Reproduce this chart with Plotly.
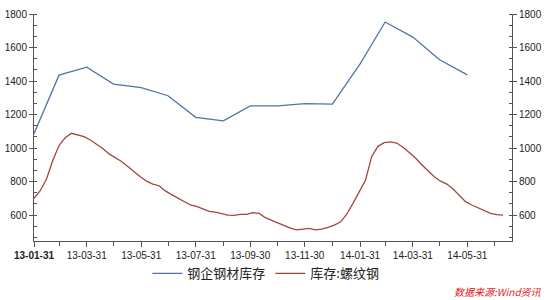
import plotly.graph_objects as go
import pandas as pd

# ---- data ----
steel_dates = ["2013-01-31", "2013-02-28", "2013-03-31", "2013-04-30", "2013-05-31",
               "2013-06-30", "2013-07-31", "2013-08-31", "2013-09-30", "2013-10-31",
               "2013-11-30", "2013-12-31", "2014-01-31", "2014-02-28", "2014-03-31",
               "2014-04-30", "2014-05-31"]
steel_values = [1085, 1435, 1483, 1382, 1360, 1312, 1183, 1162, 1252, 1252,
                1265, 1262, 1502, 1752, 1662, 1527, 1437]

rebar_start = "2013-01-31"
rebar_values = [700, 745, 815, 925, 1015, 1062, 1088, 1078, 1068, 1048,
                1024, 997, 965, 943, 920, 890, 857, 828, 802, 785,
                775, 744, 722, 702, 683, 660, 651, 638, 622, 617,
                608, 600, 598, 604, 604, 614, 610, 584, 568, 552,
                534, 522, 512, 515, 520, 512, 516, 527, 540, 558,
                605, 670, 740, 808, 950, 1010, 1032, 1037, 1030, 1005,
                973, 940, 900, 864, 828, 802, 785, 755, 720, 680,
                660, 643, 625, 610, 603, 600]
rebar_dates = pd.date_range(rebar_start, periods=len(rebar_values), freq="7D")

major_ticks = ["2013-01-31", "2013-03-31", "2013-05-31", "2013-07-31", "2013-09-30",
               "2013-11-30", "2014-01-31", "2014-03-31", "2014-05-31"]
major_labels = ["<b>13-01-31</b>", "13-03-31", "13-05-31", "13-07-31", "13-09-30",
                "13-11-30", "14-01-31", "14-03-31", "14-05-31"]
minor_ticks = ["2013-02-28", "2013-04-30", "2013-06-30", "2013-08-31", "2013-10-31",
               "2013-12-31", "2014-02-28", "2014-04-30", "2014-06-30"]

name_steel = "钢企钢材库存"
name_rebar = "库存:螺纹钢"
source_text = "<i>数据来源:Wind资讯</i>"

FONT = "Liberation Sans, Arial, Noto Sans CJK SC, sans-serif"
AX = "#555555"
YRANGE = [445, 1800]

fig = go.Figure()
fig.add_trace(go.Scatter(x=steel_dates, y=steel_values, mode="lines", name=name_steel,
                         line=dict(color="#4f75a8", width=1.3)))
fig.add_trace(go.Scatter(x=rebar_dates, y=rebar_values, mode="lines", name=name_rebar,
                         line=dict(color="#a5443e", width=1.3), yaxis="y2"))

yax = dict(range=YRANGE, tickvals=[600, 800, 1000, 1200, 1400, 1600, 1800],
           showgrid=False, zeroline=False, showline=True, linecolor=AX, linewidth=1,
           ticks="outside", ticklen=4, tickcolor=AX, automargin=False,
           tickfont=dict(family=FONT, size=10, color="#222222"),
           minor=dict(tick0=0, dtick=200/3, ticks="inside", ticklen=3, tickcolor=AX))

fig.update_layout(
    width=550, height=300,
    margin=dict(l=34, r=38, t=14, b=59, autoexpand=False),
    paper_bgcolor="white", plot_bgcolor="white",
    font=dict(family=FONT),
    xaxis=dict(range=["2013-01-31", "2014-07-20"], type="date",
               tickvals=major_ticks, ticktext=major_labels, automargin=False,
               showgrid=False, zeroline=False, showline=True, linecolor=AX, linewidth=1,
               ticks="outside", ticklen=5, tickcolor=AX,
               tickfont=dict(family=FONT, size=10, color="#222222"),
               minor=dict(tickvals=minor_ticks, ticks="outside", ticklen=4, tickcolor=AX)),
    yaxis=yax,
    yaxis2=dict(yax, overlaying="y", side="right", anchor="x"),
    showlegend=True,
    legend=dict(orientation="h", x=0.485, xanchor="center", y=-0.1425, yanchor="middle",
                font=dict(family="Noto Sans CJK SC", size=13, color="#222222"),
                bgcolor="rgba(0,0,0,0)", itemwidth=30, tracegroupgap=0),
    annotations=[dict(text=source_text, xref="paper", yref="paper",
                      x=1.067, y=-0.222, xanchor="right", yanchor="middle",
                      showarrow=False,
                      font=dict(family="Noto Sans CJK SC", size=10, color="#e0201b"))],
)

fig.write_html("out.html")
